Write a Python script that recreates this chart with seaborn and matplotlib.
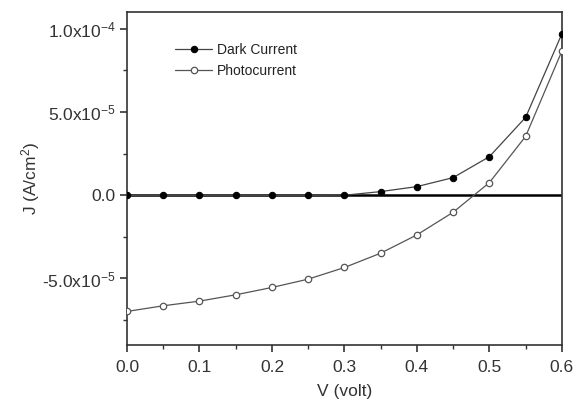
import matplotlib
matplotlib.use("Agg")
import matplotlib.pyplot as plt
import seaborn as sns
import pandas as pd
import numpy as np
from matplotlib.ticker import MultipleLocator, FixedLocator

voltage = [0.0, 0.05, 0.1, 0.15, 0.2, 0.25, 0.3, 0.35, 0.4, 0.45, 0.5, 0.55, 0.6]
dark_current = [-0.1e-6, -0.1e-6, -0.1e-6, -0.1e-6, -0.1e-6, -0.1e-6, 0.0, 2.2e-6, 5.2e-6, 1.06e-5, 2.32e-5, 4.68e-5, 9.7e-5]
photocurrent = [-6.98e-5, -6.64e-5, -6.36e-5, -5.98e-5, -5.54e-5, -5.04e-5, -4.34e-5, -3.48e-5, -2.38e-5, -1.02e-5, 7.6e-6, 3.54e-5, 8.66e-5]
series_names = ["Dark Current", "Photocurrent"]
y_ticks = [-5e-5, 0.0, 5e-5, 1e-4]
y_tick_labels = [r"-5.0x10$^{-5}$", "0.0", r"5.0x10$^{-5}$", r"1.0x10$^{-4}$"]
x_ticks = [0.0, 0.1, 0.2, 0.3, 0.4, 0.5, 0.6]

sns.set_style("white")
plt.rcParams["font.family"] = ["Liberation Sans", "DejaVu Sans"]
plt.rcParams["mathtext.fontset"] = "custom"
plt.rcParams["mathtext.rm"] = "Liberation Sans"
plt.rcParams["mathtext.it"] = "Liberation Sans:italic"

df = pd.DataFrame({
    "V": voltage * 2,
    "J": dark_current + photocurrent,
    "series": [series_names[0]] * len(voltage) + [series_names[1]] * len(voltage),
})

fig = plt.figure(figsize=(5.76, 4.05), dpi=100)
ax = fig.add_axes([0.2205, 0.148, 0.755, 0.822])

ax.axhline(0, color="black", lw=1.8, zorder=1)

d = df[df.series == series_names[0]]
sns.lineplot(data=d, x="V", y="J", ax=ax, color="#444444", lw=0.9,
             marker="o", markersize=4.6, markerfacecolor="black",
             markeredgecolor="black", label=series_names[0], zorder=3)
p = df[df.series == series_names[1]]
sns.lineplot(data=p, x="V", y="J", ax=ax, color="#555555", lw=0.9,
             marker="o", markersize=4.6, markerfacecolor="white",
             markeredgecolor="#555555", markeredgewidth=0.9,
             label=series_names[1], zorder=3)

ax.set_xlim(0, 0.6)
ax.set_ylim(-9e-5, 1.1e-4)
ax.set_xticks(x_ticks)
ax.set_xticklabels([f"{v:.1f}" for v in x_ticks])
ax.set_yticks(y_ticks)
ax.set_yticklabels(y_tick_labels)
ax.xaxis.set_minor_locator(MultipleLocator(0.05))
ax.yaxis.set_minor_locator(FixedLocator([-7.5e-5, -2.5e-5, 2.5e-5, 7.5e-5]))
ax.tick_params(axis="both", which="major", direction="out", length=5, width=1.2,
               labelsize=12.5, colors="#333333", left=True, bottom=True)
ax.tick_params(axis="x", which="major", pad=5.5)
ax.tick_params(axis="y", which="major", pad=3)
ax.tick_params(axis="both", which="minor", direction="out", length=3, width=1.0,
               left=True, bottom=True, colors="#333333")
for s in ax.spines.values():
    s.set_color("#333333")
    s.set_linewidth(1.2)

ax.set_xlabel("V (volt)", fontsize=12.5, color="#333333", labelpad=7)
ax.set_ylabel(r"J (A/cm$^2$)", fontsize=12.5, color="#333333", labelpad=0)

leg = ax.legend(loc="upper left", bbox_to_anchor=(0.11, 0.907), frameon=False,
                fontsize=10, handlelength=2.7, handletextpad=0.36,
                labelspacing=0.5, borderpad=0, borderaxespad=0)
for t in leg.get_texts():
    t.set_color("#222222")

fig.savefig("out.png", dpi=100)
